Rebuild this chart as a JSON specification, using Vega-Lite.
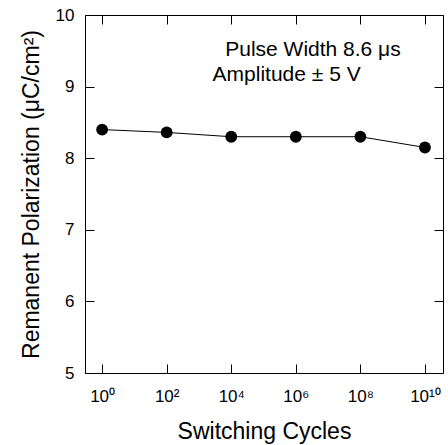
{
  "$schema": "https://vega.github.io/schema/vega-lite/v6.json",
  "width": 358,
  "height": 358,
  "autosize": "none",
  "padding": {"left": 85, "top": 15, "right": 5, "bottom": 72},
  "background": "white",
  "config": {
    "view": {"stroke": "black", "strokeWidth": 1},
    "font": "Liberation Sans",
    "axis": {
      "grid": false,
      "domain": false,
      "tickColor": "black",
      "tickWidth": 1,
      "tickSize": -9,
      "labelColor": "black",
      "titleColor": "black",
      "labelFont": "Liberation Sans",
      "titleFont": "Liberation Sans",
      "labelFontSize": 17,
      "titleFontSize": 23,
      "titleFontWeight": "normal"
    }
  },
  "data": {
    "values": [
      {"cycles": 1, "pr": 8.40},
      {"cycles": 100, "pr": 8.36},
      {"cycles": 10000, "pr": 8.30},
      {"cycles": 1000000, "pr": 8.30},
      {"cycles": 100000000, "pr": 8.30},
      {"cycles": 10000000000, "pr": 8.15}
    ]
  },
  "resolve": {"scale": {"x": "independent", "y": "independent"}},
  "layer": [
    {
      "mark": {"type": "line", "color": "black", "strokeWidth": 1},
      "encoding": {
        "x": {
          "field": "cycles", "type": "quantitative",
          "scale": {"type": "log", "domain": [0.295, 36300000000], "nice": false},
          "axis": {
            "orient": "bottom",
            "values": [1, 100, 10000, 1000000, 100000000, 10000000000],
            "labelExpr": "['10⁰','10²','10⁴','10⁶','10⁸','10¹⁰'][round(log(datum.value)/LN10/2)]",
            "labelPadding": 24,
            "title": "Switching Cycles",
            "titlePadding": 16
          }
        },
        "y": {
          "field": "pr", "type": "quantitative",
          "scale": {"domain": [5, 10], "nice": false, "zero": false},
          "axis": {
            "orient": "left",
            "values": [5, 6, 7, 8, 9, 10],
            "labelPadding": 20,
            "title": "Remanent Polarization (μC/cm²)",
            "titlePadding": 12
          }
        }
      }
    },
    {
      "mark": {"type": "point", "filled": true, "color": "black", "opacity": 1, "size": 140},
      "encoding": {
        "x": {
          "field": "cycles", "type": "quantitative",
          "scale": {"type": "log", "domain": [0.295, 36300000000], "nice": false},
          "axis": {
            "orient": "top",
            "values": [1, 100, 10000, 1000000, 100000000, 10000000000],
            "labels": false, "title": null
          }
        },
        "y": {
          "field": "pr", "type": "quantitative",
          "scale": {"domain": [5, 10], "nice": false, "zero": false},
          "axis": {
            "orient": "right",
            "values": [5, 6, 7, 8, 9, 10],
            "labels": false, "title": null
          }
        }
      }
    },
    {
      "data": {"values": [
        {"label": "Pulse Width 8.6 μs", "lx": 3400000, "ly": 9.51},
        {"label": "Amplitude ± 5 V", "lx": 520000, "ly": 9.16}
      ]},
      "mark": {"type": "text", "font": "Liberation Sans", "fontSize": 21, "color": "black", "align": "center", "baseline": "middle"},
      "encoding": {
        "x": {"field": "lx", "type": "quantitative", "scale": {"type": "log", "domain": [0.295, 36300000000], "nice": false}, "axis": null},
        "y": {"field": "ly", "type": "quantitative", "scale": {"domain": [5, 10], "nice": false, "zero": false}, "axis": null},
        "text": {"field": "label"}
      }
    }
  ]
}
